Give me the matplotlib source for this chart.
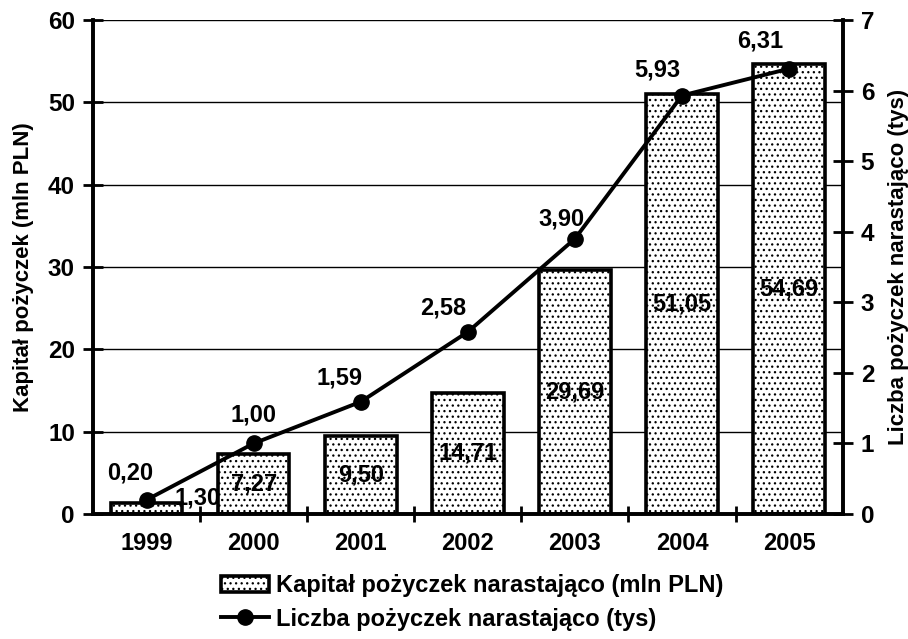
import numpy as np
import matplotlib
matplotlib.use("Agg")
import matplotlib.pyplot as plt
from matplotlib.patches import Patch
from matplotlib.lines import Line2D

plt.rcParams['font.family'] = ['Liberation Sans', 'DejaVu Sans']
plt.rcParams['font.weight'] = 'bold'
plt.rcParams['hatch.linewidth'] = 0.9

# data
years = ['1999', '2000', '2001', '2002', '2003', '2004', '2005']
kapital = [1.30, 7.27, 9.50, 14.71, 29.69, 51.05, 54.69]      # mln PLN
liczba = [0.20, 1.00, 1.59, 2.58, 3.90, 5.93, 6.31]           # tys

kapital_name = 'Kapitał pożyczek narastająco (mln PLN)'
liczba_name = 'Liczba pożyczek narastająco (tys)'

# label placement (offset points) for the line values
line_lbl_off = [(-12, 11), (0, 12), (-15, 9), (-18, 9), (-10, 6), (-18, 10), (-21, 12)]

def fmt(v):
    return f'{v:.2f}'.replace('.', ',')

fs = 17

fig = plt.figure(figsize=(9.08, 6.39), dpi=100)
ax = fig.add_axes([0.1024, 0.1956, 0.8256, 0.7731])
x = np.arange(len(years))

bars = ax.bar(x, kapital, width=0.67, facecolor='white', edgecolor='black',
              linewidth=2.6, hatch='...', zorder=2)
ax.set_xlim(-0.5, len(years) - 0.5)
ax.set_ylim(0, 60)
ax.set_yticks(np.arange(0, 61, 10))
ax.yaxis.grid(True, color='black', linewidth=1.0)
ax.set_axisbelow(True)

for i, v in enumerate(kapital):
    if i == 0:
        ax.text(i + 0.48, 1.95, fmt(v), ha='center', va='center', fontsize=fs, zorder=4)
    else:
        ax.text(i, v / 2, fmt(v), ha='center', va='center', fontsize=fs, zorder=4)

ax.set_xticks(x)
ax.set_xticklabels(years, fontsize=fs)
ax.set_xticks(np.arange(0.5, len(years) - 0.5), minor=True)
ax.tick_params(axis='x', which='major', length=0, pad=13)
ax.tick_params(axis='x', which='minor', length=12, width=2, direction='inout')
ax.tick_params(axis='y', labelsize=17.5, length=14, width=2, direction='inout', pad=6)
ax.set_ylabel('Kapitał pożyczek (mln PLN)', fontsize=16, fontweight='bold', labelpad=10)

for s in ['left', 'bottom', 'right']:
    ax.spines[s].set_linewidth(2.6)
ax.spines['top'].set_visible(False)

ax2 = ax.twinx()
ax2.plot(x, liczba, color='black', linewidth=2.8, marker='o', markersize=11, zorder=5)
ax2.set_ylim(0, 7)
ax2.set_yticks(np.arange(0, 8, 1))
ax2.tick_params(axis='y', labelsize=17.5, length=14, width=2, direction='inout', pad=6)
ax2.set_ylabel(liczba_name, fontsize=16, fontweight='bold', labelpad=10)
for s in ['left', 'bottom', 'right']:
    ax2.spines[s].set_linewidth(2.6)
ax2.spines['top'].set_visible(False)

for i, v in enumerate(liczba):
    ax2.annotate(fmt(v), (x[i], v), xytext=line_lbl_off[i], textcoords='offset points',
                 ha='center', va='bottom', fontsize=fs)

handles = [Patch(facecolor='white', edgecolor='black', linewidth=2.6, hatch='...'),
           Line2D([], [], color='black', linewidth=2.8, marker='o', markersize=11)]
fig.legend(handles, [kapital_name, liczba_name], loc='upper center',
           bbox_to_anchor=(0.52, 0.12), frameon=False, fontsize=fs,
           labelspacing=0.45, handlelength=2.0, handletextpad=0.3,
           borderpad=0.0)

fig.savefig('out.png', dpi=100)
